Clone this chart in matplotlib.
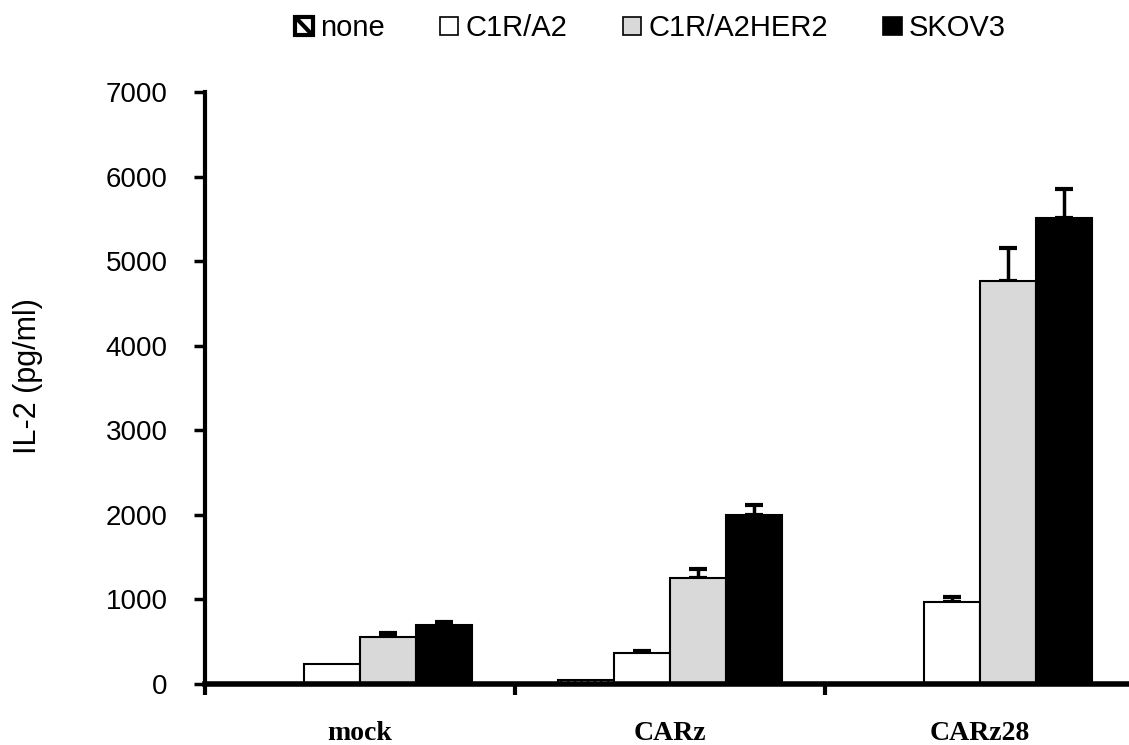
import matplotlib
matplotlib.use("Agg")
import matplotlib.pyplot as plt
import numpy as np
from matplotlib.patches import Patch, Rectangle
from matplotlib.lines import Line2D
from matplotlib.legend_handler import HandlerBase

# Data
groups = ["mock", "CARz", "CARz28"]
series = ["none", "C1R/A2", "C1R/A2HER2", "SKOV3"]
none_vals = [0, 45, 0]
c1r_a2_vals = [240, 370, 975]
c1r_a2her2_vals = [560, 1250, 4760]
skov3_vals = [700, 1995, 5510]
none_err = [0, 0, 0]
c1r_a2_err = [0, 25, 55]
c1r_a2her2_err = [40, 110, 400]
skov3_err = [35, 120, 340]
yticks = [0, 1000, 2000, 3000, 4000, 5000, 6000, 7000]

values = [none_vals, c1r_a2_vals, c1r_a2her2_vals, skov3_vals]
errors = [none_err, c1r_a2_err, c1r_a2her2_err, skov3_err]
faces = ["white", "white", "#d9d9d9", "black"]
hatches = ["\\\\\\\\\\", None, None, None]

SANS = "Liberation Sans"
SERIF = "Liberation Serif"


class DiagonalBoxHandler(HandlerBase):
    """Legend key: heavy outlined box crossed by one diagonal stroke."""

    def create_artists(self, legend, orig_handle, xdescent, ydescent,
                       width, height, fontsize, trans):
        x0, y0 = -xdescent, -ydescent
        box = Rectangle((x0, y0), width, height, facecolor="white",
                        edgecolor="black", linewidth=3, transform=trans)
        diag = Line2D([x0 + 1, x0 + width - 1], [y0 + height - 1, y0 + 1],
                      color="black", linewidth=3, solid_capstyle="butt",
                      transform=trans)
        return [box, diag]


fig = plt.figure(figsize=(11.29, 7.45), dpi=100)
ax = fig.add_axes([0.1816, 0.0819, 0.8184, 0.7946])

x = np.arange(len(groups))
width = 0.18
offsets = (np.arange(4) - 1.5) * width

for vals, errs, fc, h, off in zip(values, errors, faces, hatches, offsets):
    ax.bar(x + off, vals, width=width, color=fc, edgecolor="black",
           linewidth=1.5, hatch=h, zorder=2)
    vals_arr = np.array(vals)
    errs_arr = np.array(errs)
    mask = errs_arr > 0
    if mask.any():
        ax.errorbar((x + off)[mask], vals_arr[mask],
                    yerr=[np.zeros(mask.sum()), errs_arr[mask]],
                    fmt="none", ecolor="black", elinewidth=2.5,
                    capsize=6.5, capthick=3, zorder=1)

ax.set_xlim(-0.5, 2.48)
ax.set_ylim(0, 7000)
ax.set_yticks(yticks)
ax.set_yticklabels([str(v) for v in yticks], fontsize=20, family=SANS)

# Boundary ticks between groups; group names sit under the bar clusters
ax.set_xticks([-0.5, 0.5, 1.5])
ax.set_xticklabels([])
ax.set_xticks(x, minor=True)
ax.set_xticklabels(groups, minor=True, fontsize=20, fontweight="bold",
                   family=SERIF)
ax.tick_params(axis="x", which="minor", length=0, pad=27)
ax.tick_params(axis="x", which="major", length=8, width=3, direction="out")
ax.tick_params(axis="y", length=8, width=2.5, direction="out", pad=19)

for side in ["top", "right"]:
    ax.spines[side].set_visible(False)
ax.spines["left"].set_linewidth(3)
ax.spines["bottom"].set_linewidth(4)

fig.text(28 / 1129, 0.495, "IL-2 (pg/ml)", rotation=90, ha="center",
         va="center", fontsize=22, family=SANS)

handles = [
    Patch(facecolor="white", edgecolor="black"),
    Patch(facecolor="white", edgecolor="black", linewidth=1.2),
    Patch(facecolor="#d9d9d9", edgecolor="black", linewidth=1.2),
    Patch(facecolor="black", edgecolor="black", linewidth=1.2),
]
fig.legend(handles, series, loc="center", bbox_to_anchor=(0.576, 0.962),
           ncol=4, frameon=False, handlelength=0.62, handleheight=0.62,
           handletextpad=0.25, columnspacing=1.9,
           handler_map={handles[0]: DiagonalBoxHandler()},
           prop={"family": SANS, "size": 21})

fig.savefig("out.png", dpi=100)
